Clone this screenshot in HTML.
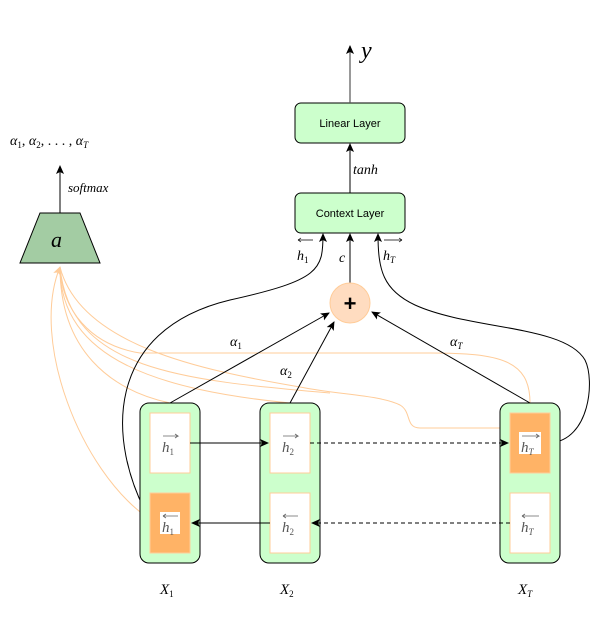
<!DOCTYPE html>
<html><head><meta charset="utf-8"><style>
body{margin:0;background:#fff;width:606px;height:622px;overflow:hidden}
svg{display:block}
text{font-family:"Liberation Serif",serif;font-style:italic;fill:#000}
tspan.b{font-style:normal}
.s{font-family:"Liberation Sans",sans-serif;font-style:normal;font-size:11px}
</style></head><body>
<svg width="606" height="622" viewBox="0 0 606 622" xmlns="http://www.w3.org/2000/svg">
<defs>
<marker id="ar" markerWidth="10" markerHeight="10" refX="8" refY="5" orient="auto" markerUnits="userSpaceOnUse"><path d="M0,1 L9,5 L0,9 L2,5z" fill="#000"/></marker>
<marker id="ao" markerWidth="10" markerHeight="10" refX="8" refY="5" orient="auto" markerUnits="userSpaceOnUse"><path d="M0,1 L9,5 L0,9 L2,5z" fill="#ffcc99"/></marker>
</defs>
<g fill="none" stroke="#ffcc99" stroke-width="1">
<path d="M148,518 C80,470 30,340 60,267" marker-end="url(#ao)"/>
<path d="M170,403 C110,390 60,350 60,267"/>
<path d="M290,403 C160,390 60,360 60,267"/>
<path d="M330,393 C180,380 70,370 60,267"/>
<path d="M510,428 L420,428 C405,428 412,412 400,405 C380,395 340,395 300,387 C200,370 80,345 60,267"/>
<path d="M530,403 C530,360 500,353 430,353 L140,353 C90,345 62,310 60,267"/>
</g>
<polygon points="40,213 80,213 100,263 20,263" fill="#a3cca3" stroke="#000" stroke-width="1"/>
<text x="51" y="247" font-size="22">a</text>
<line x1="60" y1="213" x2="60" y2="166" stroke="#000" marker-end="url(#ar)"/>
<text x="68" y="192" font-size="13">softmax</text>
<text x="10" y="145" font-size="14">α<tspan class="b" font-size="9" dy="3">1</tspan><tspan class="b" dy="-3">, </tspan>α<tspan class="b" font-size="9" dy="3">2</tspan><tspan class="b" dy="-3">, . . . , </tspan>α<tspan font-size="9" dy="3">T</tspan></text>
<rect x="295" y="103" width="110" height="40" rx="6" fill="#ccffcc" stroke="#000"/>
<text class="s" x="350" y="127" text-anchor="middle">Linear Layer</text>
<rect x="295" y="193" width="110" height="40" rx="6" fill="#ccffcc" stroke="#000"/>
<text class="s" x="350" y="217" text-anchor="middle">Context Layer</text>
<line x1="350" y1="103" x2="350" y2="46" stroke="#555" stroke-width="1.2" marker-end="url(#ar)"/>
<text x="361" y="58" font-size="24">y</text>
<line x1="350" y1="193" x2="350" y2="144" stroke="#000" marker-end="url(#ar)"/>
<text x="353" y="174" font-size="14">tanh</text>
<line x1="350" y1="283" x2="350" y2="234" stroke="#000" marker-end="url(#ar)"/>
<text x="339" y="262" font-size="14">c</text>
<text x="297" y="260" font-size="14">h<tspan class="b" font-size="9" dy="3">1</tspan></text>
<path d="M298,240 L313,240 M298,240 l3,-2 M298,240 l3,2" stroke="#000" stroke-width="0.7" fill="none"/>
<text x="383" y="260" font-size="14">h<tspan font-size="9" dy="3">T</tspan></text>
<path d="M384,240 L402,240 M402,240 l-3,-2 M402,240 l-3,2" stroke="#000" stroke-width="0.7" fill="none"/>
<circle cx="350" cy="303" r="20" fill="#ffdcc0" stroke="#ffcc99"/>
<text x="350" y="311" text-anchor="middle" style="font-family:'Liberation Sans',sans-serif;font-style:normal;font-size:22px;font-weight:bold">+</text>
<path d="M150,520 C105,440 105,330 230,300 C320,280 323,270 323,234" fill="none" stroke="#000" marker-end="url(#ar)"/>
<path d="M550,443 C590,440 595,380 585,360 C565,325 470,330 415,305 C383,290 378,270 378,234" fill="none" stroke="#000" marker-end="url(#ar)"/>
<line x1="170" y1="403" x2="329" y2="313" stroke="#000" marker-end="url(#ar)"/>
<line x1="290" y1="403" x2="334" y2="322" stroke="#000" marker-end="url(#ar)"/>
<line x1="530" y1="403" x2="372" y2="312" stroke="#000" marker-end="url(#ar)"/>
<text x="230" y="346" font-size="14">α<tspan class="b" font-size="9" dy="3">1</tspan></text>
<text x="280" y="375" font-size="14">α<tspan class="b" font-size="9" dy="3">2</tspan></text>
<text x="450" y="346" font-size="14">α<tspan font-size="9" dy="3">T</tspan></text>
<g stroke="#000">
<rect x="140" y="403" width="60" height="160" rx="9" fill="#ccffcc"/>
<rect x="260" y="403" width="60" height="160" rx="9" fill="#ccffcc"/>
<rect x="500" y="403" width="60" height="160" rx="9" fill="#ccffcc"/>
</g>
<g stroke="#ffcc99">
<rect x="150" y="413" width="40" height="60" fill="#fff"/>
<rect x="150" y="493" width="40" height="60" fill="#ffb366"/>
<rect x="270" y="413" width="40" height="60" fill="#fff"/>
<rect x="270" y="493" width="40" height="60" fill="#fff"/>
<rect x="510" y="413" width="40" height="60" fill="#ffb366"/>
<rect x="510" y="493" width="40" height="60" fill="#fff"/>
</g>
<rect x="160" y="512" width="20" height="22" fill="#fff"/>
<rect x="519" y="432" width="22" height="22" fill="#fff"/>
<g font-size="15">
<text x="162" y="452" style="fill:#555">h<tspan class="b" font-size="9" dy="3">1</tspan></text>
<text x="162" y="532" style="fill:#555">h<tspan class="b" font-size="9" dy="3">1</tspan></text>
<text x="282" y="452" style="fill:#555">h<tspan class="b" font-size="9" dy="3">2</tspan></text>
<text x="282" y="532" style="fill:#555">h<tspan class="b" font-size="9" dy="3">2</tspan></text>
<text x="521" y="452" style="fill:#555">h<tspan font-size="9" dy="3">T</tspan></text>
<text x="521" y="532" style="fill:#555">h<tspan font-size="9" dy="3">T</tspan></text>
</g>
<g stroke="#666" stroke-width="0.8" fill="none">
<path d="M163,436 H178 l-3,-2 M178,436 l-3,2"/><path d="M163,516 H178 M163,516 l3,-2 M163,516 l3,2"/>
<path d="M283,436 H298 l-3,-2 M298,436 l-3,2"/><path d="M283,516 H298 M283,516 l3,-2 M283,516 l3,2"/>
<path d="M522,436 H539 l-3,-2 M539,436 l-3,2"/><path d="M522,516 H539 M522,516 l3,-2 M522,516 l3,2"/>
</g>
<line x1="190" y1="443" x2="268" y2="443" stroke="#000" marker-end="url(#ar)"/>
<line x1="310" y1="443" x2="508" y2="443" stroke="#000" stroke-dasharray="4,3" marker-end="url(#ar)"/>
<line x1="270" y1="523" x2="192" y2="523" stroke="#000" marker-end="url(#ar)"/>
<line x1="510" y1="523" x2="312" y2="523" stroke="#000" stroke-dasharray="4,3" marker-end="url(#ar)"/>
<text x="160" y="594" font-size="15">X<tspan class="b" font-size="9" dy="3">1</tspan></text>
<text x="280" y="594" font-size="15">X<tspan class="b" font-size="9" dy="3">2</tspan></text>
<text x="518" y="594" font-size="15">X<tspan font-size="9" dy="3">T</tspan></text>
</svg>
</body></html>
